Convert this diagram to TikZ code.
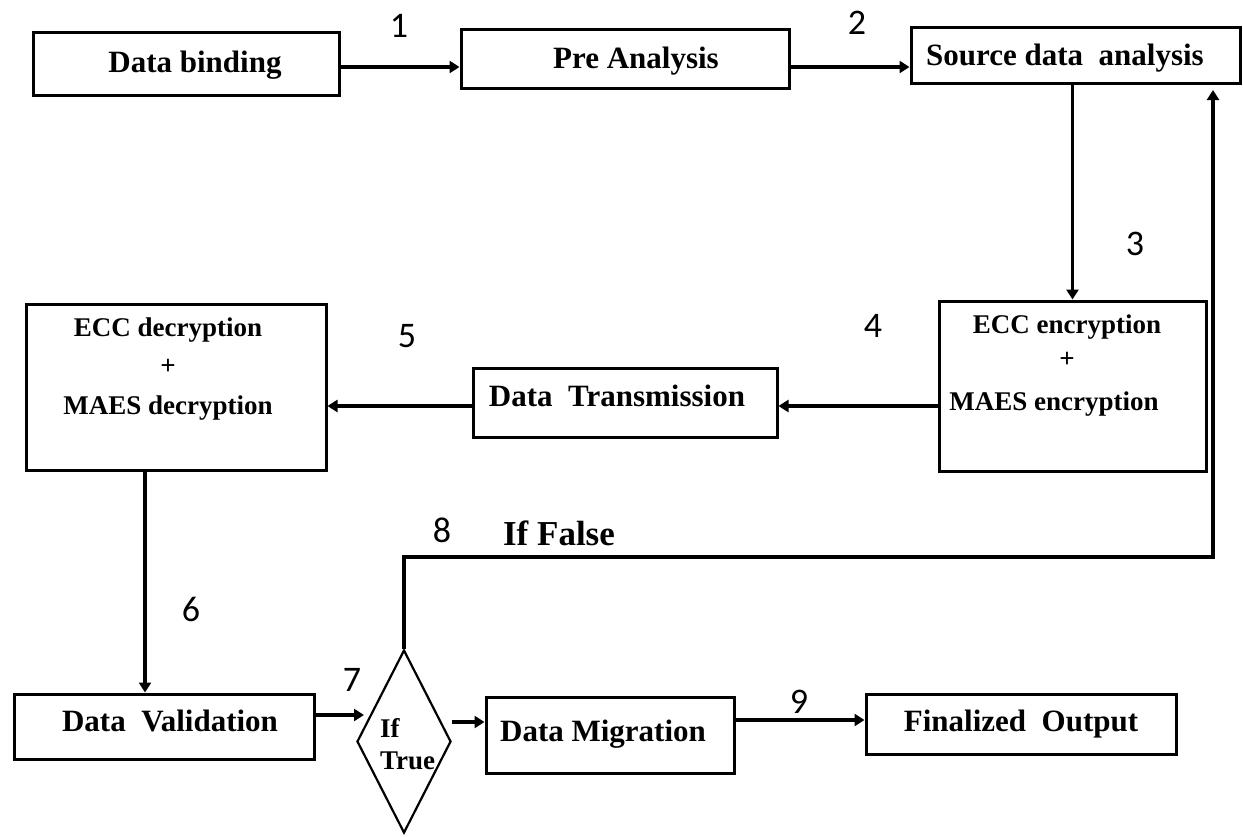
\documentclass[tikz,border=0pt]{standalone}
\usepackage{fontspec}
\setmainfont{Liberation Serif}
\newfontfamily\numfont{Carlito}
\usetikzlibrary{arrows.meta,shapes.geometric}

\begin{document}
\begin{tikzpicture}[x=1pt,y=-1pt,
  box/.style={draw, line width=3pt, inner sep=0pt},
  lbl/.style={font=\fontsize{31}{34}\selectfont\bfseries, inner sep=0pt, anchor=base},
  sub/.style={font=\fontsize{27}{30}\selectfont\bfseries, inner sep=0pt, anchor=base},
  num/.style={font=\fontsize{36}{40}\selectfont\numfont, inner sep=0pt, anchor=base},
  arr/.style={line width=3.8pt, -{Triangle[length=10pt,width=12pt]}},
]
\useasboundingbox (0,0) rectangle (1243,836);

% process boxes
\node[box, minimum width=306pt, minimum height=63pt]  (bind)  at (186,63.5)   {};
\node[box, minimum width=328pt, minimum height=59pt]  (pre)   at (625,58.5)   {};
\node[box, minimum width=329pt, minimum height=56pt]  (src)   at (1075.5,55)  {};
\node[box, minimum width=267pt, minimum height=170pt] (enc)   at (1072.5,386) {};
\node[box, minimum width=304pt, minimum height=69pt]  (trans) at (625,402.5)  {};
\node[box, minimum width=300pt, minimum height=166pt] (dec)   at (176,387)    {};
\node[box, minimum width=300pt, minimum height=65pt]  (val)   at (164,726.5)  {};
\node[box, minimum width=248pt, minimum height=76pt]  (mig)   at (610,735)    {};
\node[box, minimum width=310pt, minimum height=60pt]  (fin)   at (1021,724)   {};
\node[draw, diamond, line width=2.2pt, minimum width=94pt, minimum height=183pt, inner sep=0pt] (dia) at (404,741.5) {};

% box texts
\node[lbl] (bindT)  at (195,72)  {Data binding};
\node[lbl] (preT)   at (636,68)  {Pre Analysis};
\node[lbl] (srcT)   at (1065,65) {Source data\ \ analysis};
\node[sub] (encA)   at (1067,333) {ECC encryption};
\node[sub, anchor=center] (encP) at (1067,360) {+};
\node[sub] (encB)   at (1054,410) {MAES encryption};
\node[lbl] (transT) at (617,406) {Data\ \ Transmission};
\node[sub] (decA)   at (168,336) {ECC decryption};
\node[sub, anchor=center] (decP) at (168,367) {+};
\node[sub] (decB)   at (168,414) {MAES decryption};
\node[lbl] (valT)   at (170,731) {Data\ \ Validation};
\node[lbl] (migT)   at (603,741) {Data Migration};
\node[lbl] (finT)   at (1021,731) {Finalized\ \ Output};
\node[sub, anchor=base west] (ifT)   at (380,737) {If};
\node[sub, anchor=base west] (trueT) at (380,769) {True};
\node[font=\fontsize{35}{38}\selectfont\bfseries, inner sep=0pt, anchor=base] (falseT) at (559,545) {If False};

% step numbers
\node[num] (n1) at (399,37)  {1};
\node[num] (n2) at (857,34)  {2};
\node[num] (n3) at (1135,255) {3};
\node[num] (n4) at (873,337) {4};
\node[num] (n5) at (407,347) {5};
\node[num] (n6) at (191,621) {6};
\node[num] (n7) at (352,691) {7};
\node[num] (n8) at (442,542) {8};
\node[num] (n9) at (799,713) {9};

% connector levels
\coordinate (r1) at (0,67);
\coordinate (r4) at (0,406);
\coordinate (c6) at (145,0);
\coordinate (r7) at (0,715);
\coordinate (t7) at (364,715);
\coordinate (r8) at (0,722);
\coordinate (r9) at (0,720);
\coordinate (bend) at (1213,557);
\coordinate (loopEnd) at (1213,90);

% connectors
\draw[arr] (bind.east |- r1) -- (pre.west |- r1);
\draw[arr] (pre.east |- r1) -- (src.west |- r1);
\draw[arr] (src.south -| enc.north) -- (enc.north);
\draw[arr] (enc.west |- r4) -- (trans.east |- r4);
\draw[arr] (trans.west |- r4) -- (dec.east |- r4);
\draw[arr] (dec.south -| c6) -- (val.north -| c6);
\draw[arr] (val.east |- r7) -- (t7);
\draw[arr] (dia.east |- r8) -- (mig.west |- r8);
\draw[arr] (mig.east |- r9) -- (fin.west |- r9);
\draw[arr] (dia.north) |- (bend) -- (loopEnd);
\end{tikzpicture}
\end{document}
